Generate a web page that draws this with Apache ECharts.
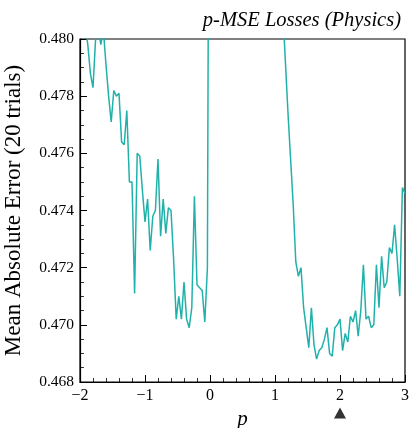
<!DOCTYPE html>
<html>
<head>
<meta charset="utf-8">
<script src="https://cdn.jsdelivr.net/npm/echarts@6/dist/echarts.min.js"></script>
<style>
  html, body { margin: 0; padding: 0; background: #fff; }
  #chart { width: 409px; height: 428px; }
</style>
</head>
<body>
<div id="chart"></div>
<script>
// Exponent p swept over [-2, 3]
const pValues = [
  -2, -1.96, -1.92, -1.88, -1.84, -1.8, -1.76, -1.72, -1.68, -1.64,
  -1.6, -1.56, -1.52, -1.48, -1.44, -1.4, -1.36, -1.32, -1.28, -1.24,
  -1.2, -1.16, -1.12, -1.08, -1.04, -1, -0.96, -0.92, -0.88, -0.84,
  -0.8, -0.76, -0.72, -0.68, -0.64, -0.6, -0.56, -0.52, -0.48, -0.44,
  -0.4, -0.36, -0.32, -0.28, -0.24, -0.2, -0.16, -0.12, -0.08, -0.04,
  0, 0.04, 0.08, 0.12, 0.16, 0.2, 0.24, 0.28, 0.32, 0.36,
  0.4, 0.44, 0.48, 0.52, 0.56, 0.6, 0.64, 0.68, 0.72, 0.76,
  0.8, 0.84, 0.88, 0.92, 0.96, 1, 1.04, 1.08, 1.12, 1.16,
  1.2, 1.24, 1.28, 1.32, 1.36, 1.4, 1.44, 1.48, 1.52, 1.56,
  1.6, 1.64, 1.68, 1.72, 1.76, 1.8, 1.84, 1.88, 1.92, 1.96,
  2, 2.04, 2.08, 2.12, 2.16, 2.2, 2.24, 2.28, 2.32, 2.36,
  2.4, 2.44, 2.48, 2.52, 2.56, 2.6, 2.64, 2.68, 2.72, 2.76,
  2.8, 2.84, 2.88, 2.92, 2.96, 3
];

// Mean absolute error averaged over 20 trials, one value per p
const maeValues = [
  0.4810, 0.4808, 0.4805, 0.4798, 0.4788, 0.4783, 0.4800, 0.4804, 0.4798, 0.4803,
  0.4791, 0.4780, 0.4771, 0.4782, 0.4780, 0.4781, 0.4764, 0.4763, 0.4775, 0.4750,
  0.4750, 0.4711, 0.4760, 0.4759, 0.4747, 0.4736, 0.4744, 0.4726, 0.4738, 0.4740,
  0.4758, 0.4731, 0.4744, 0.4732, 0.4741, 0.4740, 0.4723, 0.4702, 0.4710, 0.4702,
  0.4715, 0.4702, 0.4699, 0.4706, 0.4745, 0.4714, 0.4713, 0.4712, 0.4701, 0.4720,
  0.4985, 0.5120, 0.5160, 0.5180, 0.5170, 0.5150, 0.5120, 0.5090, 0.5060, 0.5030,
  0.5000, 0.4980, 0.4960, 0.4940, 0.4920, 0.4905, 0.4890, 0.4877, 0.4865, 0.4853,
  0.4843, 0.4834, 0.4827, 0.4821, 0.4816, 0.4813, 0.4812, 0.4815, 0.4810, 0.4792,
  0.4774, 0.4758, 0.4742, 0.4722, 0.4717, 0.4720, 0.4706, 0.4699, 0.4692, 0.4706,
  0.4693, 0.4688, 0.4691, 0.4692, 0.4695, 0.4699, 0.4690, 0.4689, 0.4699, 0.4700,
  0.4702, 0.4691, 0.4697, 0.4694, 0.4703, 0.4701, 0.4705, 0.4696, 0.4705, 0.4721,
  0.4702, 0.4703, 0.4699, 0.4700, 0.4721, 0.4706, 0.4724, 0.4713, 0.4715, 0.4727,
  0.4725, 0.4735, 0.4723, 0.4710, 0.4748, 0.4746
];

// Chosen exponent, flagged below the x axis
const chosenP = [2];

const xTicks = [-2, -1, 0, 1, 2, 3];
const yTicks = [0.468, 0.470, 0.472, 0.474, 0.476, 0.478, 0.480];

const titleText = 'p-MSE Losses (Physics)';
const yLabel = 'Mean Absolute Error (20 trials)';
const xLabel = 'p';

const serif = '"Liberation Serif", "DejaVu Serif", serif';
const lineColor = '#20b2aa';

const chart = echarts.init(document.getElementById('chart'), null, { renderer: 'canvas' });

const fmtX = v => (v < 0 ? '\u2212' + Math.abs(v) : String(v));

chart.setOption({
  animation: false,
  backgroundColor: '#ffffff',
  title: {
    text: titleText,
    right: 3,
    top: 6,
    textStyle: { fontFamily: serif, fontStyle: 'italic', fontWeight: 'normal', fontSize: 20.5, color: '#000' }
  },
  grid: [
    { left: 80, right: 4, top: 39, bottom: 46, show: true, borderColor: '#000', borderWidth: 1.2,
      backgroundColor: 'transparent', outerBoundsMode: 'none', containLabel: false },
    { left: 80, right: 4, top: 405, height: 16, outerBoundsMode: 'none', containLabel: false }
  ],
  xAxis: [
    {
      type: 'value', gridIndex: 0,
      min: xTicks[0], max: xTicks[xTicks.length - 1], interval: 1,
      name: xLabel, nameLocation: 'middle', nameGap: 26,
      nameTextStyle: { fontFamily: serif, fontStyle: 'italic', fontSize: 21, color: '#000' },
      axisLine: { show: true, onZero: false, lineStyle: { color: '#000', width: 1.2 } },
      axisTick: { show: true, inside: true, length: 7, lineStyle: { color: '#000', width: 1 } },
      minorTick: { show: true, splitNumber: 5, length: 4, lineStyle: { color: '#000', width: 0.8 } },
      axisLabel: { formatter: fmtX, fontFamily: serif, fontSize: 16, color: '#000', margin: 6 },
      splitLine: { show: false }
    },
    {
      type: 'value', gridIndex: 1, min: xTicks[0], max: xTicks[xTicks.length - 1], show: false
    }
  ],
  yAxis: [
    {
      type: 'value', gridIndex: 0,
      min: yTicks[0], max: yTicks[yTicks.length - 1], interval: 0.002,
      name: yLabel, nameLocation: 'middle', nameGap: 55,
      nameTextStyle: { fontFamily: serif, fontSize: 23, color: '#000' },
      axisLine: { show: true, onZero: false, lineStyle: { color: '#000', width: 1.2 } },
      axisTick: { show: true, inside: true, length: 7, lineStyle: { color: '#000', width: 1 } },
      minorTick: { show: true, splitNumber: 4, length: 4, lineStyle: { color: '#000', width: 0.8 } },
      axisLabel: { formatter: v => v.toFixed(3), fontFamily: serif, fontSize: 15.5, color: '#000', margin: 6 },
      splitLine: { show: false }
    },
    { type: 'value', gridIndex: 1, min: -1, max: 1, show: false }
  ],
  series: [
    {
      type: 'line',
      xAxisIndex: 0, yAxisIndex: 0,
      data: pValues.map((p, i) => [p, maeValues[i]]),
      showSymbol: false,
      clip: true,
      lineStyle: { color: lineColor, width: 1.5 },
      itemStyle: { color: lineColor }
    },
    {
      type: 'scatter',
      xAxisIndex: 1, yAxisIndex: 1,
      data: chosenP.map(p => [p, 0]),
      symbol: 'triangle',
      symbolSize: [12, 11],
      clip: false,
      itemStyle: { color: '#000' }
    }
  ]
});
</script>
</body>
</html>
